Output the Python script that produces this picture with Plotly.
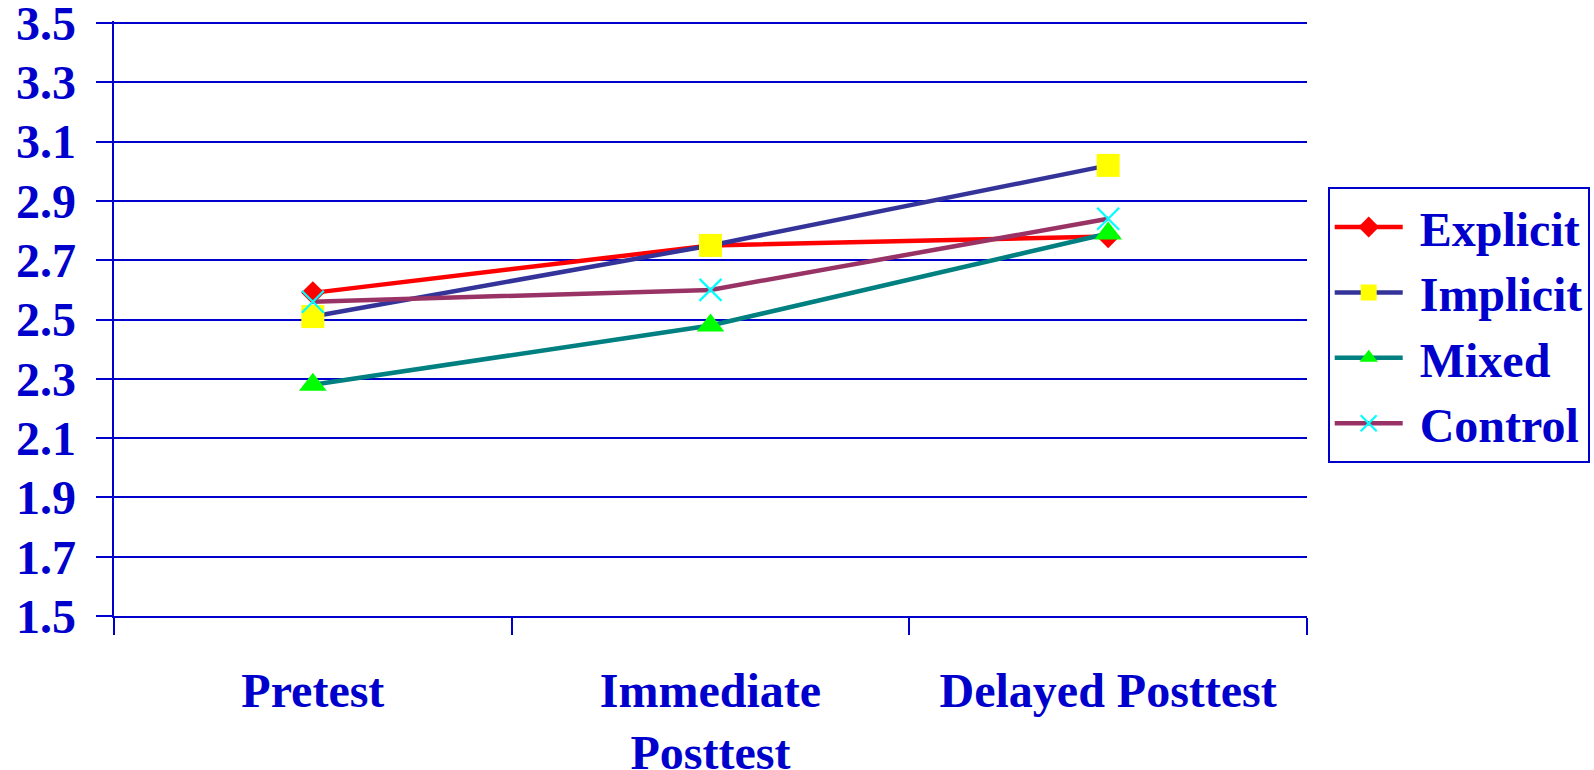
import plotly.graph_objects as go

# Test phases and group mean scores
phases = ["Pretest", "Immediate<br>Posttest", "Delayed Posttest"]
explicit = [2.59, 2.75, 2.78]
implicit = [2.51, 2.75, 3.02]
mixed = [2.28, 2.48, 2.79]
control = [2.56, 2.60, 2.84]

y_ticks = [1.5, 1.7, 1.9, 2.1, 2.3, 2.5, 2.7, 2.9, 3.1, 3.3, 3.5]

BLUE = "#0000CC"
FONT = dict(family="Liberation Serif, Times New Roman, serif", size=48, color=BLUE, weight="bold")
NBSP = "\u00a0"

series = [
    ("Explicit", explicit, "#FF0000", dict(symbol="diamond", size=18, color="#FF0000")),
    ("Implicit", implicit, "#333399", dict(symbol="square", size=23, color="#FFFF00")),
    ("Mixed", mixed, "#008080", dict(symbol="triangle-up", size=24, color="#00FF00")),
    ("Control", control, "#993366", dict(symbol="x-thin", size=22, line=dict(color="#00FFFF", width=2.2))),
]

fig = go.Figure()
for name, vals, line_color, marker in series:
    fig.add_trace(go.Scatter(
        x=phases, y=vals, name=NBSP + name, mode="lines+markers",
        line=dict(color=line_color, width=4.5),
        marker=marker,
    ))

fig.update_layout(
    width=1594, height=770,
    margin=dict(l=114, r=287, t=21, b=154),
    paper_bgcolor="white", plot_bgcolor="white",
    font=FONT,
    showlegend=True,
    legend=dict(
        xref="container", yref="container",
        x=1327.7 / 1594, y=1 - 187.3 / 770, xanchor="left", yanchor="top",
        bordercolor=BLUE, borderwidth=2, bgcolor="white",
        font=FONT, itemwidth=68,
    ),
)

fig.update_xaxes(
    type="category", range=[-0.5, 2.5], tickson="boundaries", automargin=False,
    showgrid=False, showline=True, linecolor=BLUE, linewidth=2,
    ticks="outside", ticklen=17, tickwidth=2, tickcolor=BLUE,
    tickfont=FONT, ticklabelstandoff=31, ticklabeloverflow="allow",
)

# top of range sits just above 3.5 so its grid line is kept
fig.update_yaxes(
    range=[1.5, 3.507], tickvals=y_ticks, tickformat=".1f", automargin=False,
    showgrid=True, gridcolor=BLUE, gridwidth=2, zeroline=False,
    showline=True, linecolor=BLUE, linewidth=2,
    ticks="outside", ticklen=16.5, tickwidth=2, tickcolor=BLUE,
    tickfont=FONT, ticklabelstandoff=10, ticklabeloverflow="allow",
)

fig.write_html("out.html")
